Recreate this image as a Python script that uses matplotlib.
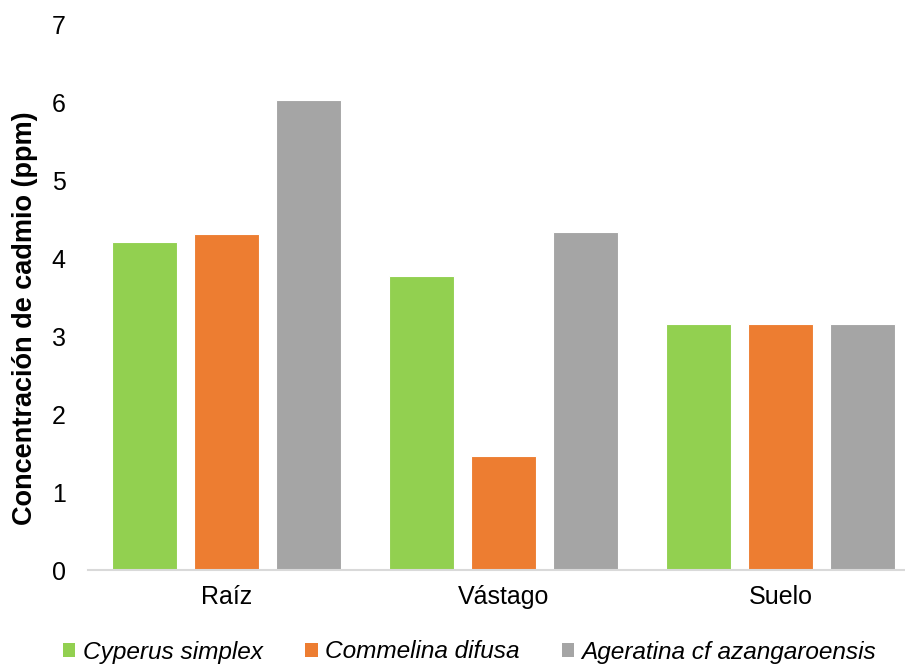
import matplotlib
matplotlib.use("Agg")
import matplotlib.pyplot as plt
import numpy as np
from matplotlib.patches import Patch

plt.rcParams['font.family'] = ['Liberation Sans', 'DejaVu Sans']

categories = ["Raíz", "Vástago", "Suelo"]
species = ["Cyperus simplex", "Commelina difusa", "Ageratina cf azangaroensis"]
cyperus = [4.21, 3.77, 3.15]
commelina = [4.31, 1.46, 3.15]
ageratina = [6.03, 4.33, 3.15]
colors = ["#92D050", "#ED7D31", "#A5A5A5"]
yticks = [0, 1, 2, 3, 4, 5, 6, 7]

fig = plt.figure(figsize=(9.05, 6.65), dpi=100)
ax = fig.add_axes([88 / 905, 1 - 570 / 665, 1 - 88 / 905, (570 - 24) / 665])

x = np.arange(len(categories))
step = 0.296
width = 0.235
for i, (vals, col) in enumerate(zip([cyperus, commelina, ageratina], colors)):
    ax.bar(x + (i - 1) * step, vals, width=width, color=col,
           edgecolor="white", linewidth=0.8, zorder=2)

ax.set_ylim(0, 7)
ax.set_xlim(-0.5, 2.448)
ax.set_yticks(yticks)
ax.set_yticklabels([str(t) for t in yticks])
ax.set_xticks(x)
ax.set_xticklabels(categories)
ax.tick_params(axis='both', length=0, labelsize=18, colors="#000000")
ax.tick_params(axis='y', pad=16)
ax.tick_params(axis='x', pad=11)
for s in ["left", "top", "right"]:
    ax.spines[s].set_visible(False)
ax.spines["bottom"].set_color("#D9D9D9")
ax.spines["bottom"].set_linewidth(1.5)

ax.set_ylabel("Concentración de cadmio (ppm)", fontsize=19.5, fontweight="bold")
ax.yaxis.set_label_coords(-0.061, 0.462)

handles = [Patch(facecolor=c, edgecolor="none") for c in colors]
fig.legend(handles, species, loc="center", bbox_to_anchor=(0.519, 1 - 652 / 665),
           ncol=3, frameon=False, prop={"size": 17.6, "style": "italic"},
           handlelength=0.5, handleheight=0.5, handletextpad=0.3, columnspacing=1.75)

fig.savefig("out.png", dpi=100)
